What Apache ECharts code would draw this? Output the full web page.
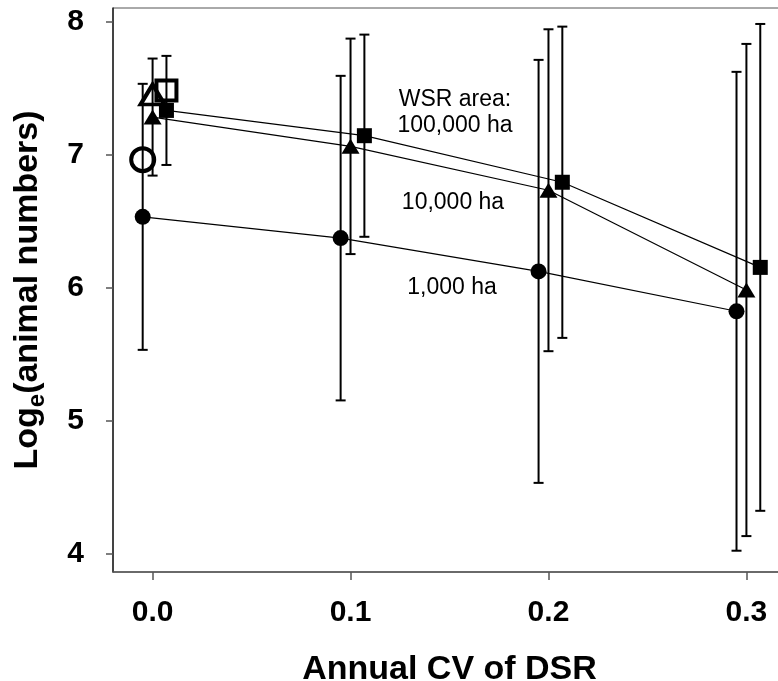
<!DOCTYPE html>
<html>
<head>
<meta charset="utf-8">
<script src="https://cdn.jsdelivr.net/npm/echarts@6/dist/echarts.min.js"></script>
<style>
html,body{margin:0;padding:0;background:#fff;}
#chart{width:778px;height:681px;}
</style>
</head>
<body>
<div id="chart"></div>
<script>
// ---- data ----
const xTicks = [0, 0.1, 0.2, 0.3];
const yTicks = [4, 5, 6, 7, 8];

// 1,000 ha (filled circles)
const x1000 = [-0.005, 0.095, 0.195, 0.295];
const y1000 = [6.53, 6.37, 6.12, 5.82];
const e1000 = [1.00, 1.22, 1.59, 1.80];

// 10,000 ha (filled triangles)
const x10000 = [0, 0.1, 0.2, 0.3];
const y10000 = [7.28, 7.06, 6.73, 5.98];
const e10000 = [0.44, 0.81, 1.21, 1.85];

// 100,000 ha (filled squares)
const x100000 = [0.007, 0.107, 0.207, 0.307];
const y100000 = [7.33, 7.14, 6.79, 6.15];
const e100000 = [0.41, 0.76, 1.17, 1.83];

// open symbols at CV = 0
const openCircle = [[-0.005, 6.96]];
const openTriangle = [[0, 7.45]];
const openSquare = [[0.007, 7.48]];

const annotations = ['WSR area:', '100,000 ha', '10,000 ha', '1,000 ha'];

// ---- build ----
const FONT = '"Liberation Sans", Arial, sans-serif';
function pts(xs, ys) { return xs.map((x, i) => [x, ys[i]]); }
function bars(xs, ys, es) { return xs.map((x, i) => [x, ys[i] - es[i], ys[i] + es[i]]); }

function errSeries(data) {
  return {
    type: 'custom',
    data: data,
    encode: { x: 0, y: [1, 2] },
    z: 1,
    clip: false,
    renderItem: function (params, api) {
      const x = api.value(0), lo = api.value(1), hi = api.value(2);
      const a = api.coord([x, hi]);
      const b = api.coord([x, lo]);
      const hw = 5;
      const st = { stroke: '#000', lineWidth: 2 };
      return {
        type: 'group',
        children: [
          { type: 'line', shape: { x1: a[0], y1: a[1], x2: b[0], y2: b[1] }, style: st },
          { type: 'line', shape: { x1: a[0] - hw, y1: a[1], x2: a[0] + hw, y2: a[1] }, style: st },
          { type: 'line', shape: { x1: b[0] - hw, y1: b[1], x2: b[0] + hw, y2: b[1] }, style: st }
        ]
      };
    }
  };
}

function lineSeries(data, symbol, size) {
  return {
    type: 'line',
    data: data,
    symbol: symbol,
    symbolSize: size,
    showAllSymbol: true,
    z: 3,
    lineStyle: { color: '#000', width: 1.2 },
    itemStyle: { color: '#000', borderWidth: 0, opacity: 1 },
    emphasis: { disabled: true },
    animation: false
  };
}

function openSeries(data, symbol, size) {
  return {
    type: 'scatter',
    data: data,
    symbol: symbol,
    symbolSize: size,
    z: 4,
    itemStyle: { color: 'rgba(0,0,0,0)', borderColor: '#000', borderWidth: 4, opacity: 1 },
    emphasis: { disabled: true }
  };
}

const chart = echarts.init(document.getElementById('chart'), null, { renderer: 'canvas' });
chart.setOption({
  animation: false,
  backgroundColor: '#fff',
  grid: { left: 113, top: 8, width: 673, height: 564, outerBoundsMode: 'none', containLabel: false, show: true, borderColor: '#555', borderWidth: 1, backgroundColor: 'transparent' },
  xAxis: {
    type: 'value', min: -0.02, max: 0.32,
    splitLine: { show: false },
    axisLine: { show: true, onZero: false, lineStyle: { color: '#555', width: 1.5 } },
    axisTick: { show: true, inside: false, length: 8, customValues: xTicks, lineStyle: { color: '#555', width: 1.5 } },
    axisLabel: { customValues: xTicks, margin: 26, formatter: v => v.toFixed(1), color: '#000', fontFamily: FONT, fontWeight: 'bold', fontSize: 30 },
    name: 'Annual CV of DSR', nameLocation: 'middle', nameGap: 81,
    nameTextStyle: { color: '#000', fontFamily: FONT, fontWeight: 'bold', fontSize: 34 }
  },
  yAxis: {
    type: 'value', min: 3.86, max: 8.1,
    splitLine: { show: false },
    axisLine: { show: true, onZero: false, lineStyle: { color: '#222', width: 1.5 } },
    axisTick: { show: true, inside: false, length: 7, customValues: yTicks, lineStyle: { color: '#555', width: 1.5 } },
    axisLabel: { customValues: yTicks, margin: 29, color: '#000', fontFamily: FONT, fontWeight: 'bold', fontSize: 30 },
    name: '{a|Log}{b|e}{a|(animal numbers)}', nameLocation: 'middle', nameGap: 64, nameRotate: 90,
    nameTextStyle: {
      color: '#000', fontFamily: FONT, fontWeight: 'bold', fontSize: 34,
      rich: {
        a: { fontFamily: FONT, fontWeight: 'bold', fontSize: 34, color: '#000' },
        b: { fontFamily: FONT, fontWeight: 'bold', fontSize: 24, color: '#000', padding: [18, 0, 0, 0] }
      }
    }
  },
  graphic: [
    { type: 'text', x: 455, y: 100, z: 10, style: { text: annotations[0], font: '23px ' + FONT, fill: '#000', textAlign: 'center', textVerticalAlign: 'middle' } },
    { type: 'text', x: 455, y: 126, z: 10, style: { text: annotations[1], font: '23px ' + FONT, fill: '#000', textAlign: 'center', textVerticalAlign: 'middle' } },
    { type: 'text', x: 453, y: 203, z: 10, style: { text: annotations[2], font: '23px ' + FONT, fill: '#000', textAlign: 'center', textVerticalAlign: 'middle' } },
    { type: 'text', x: 452, y: 288, z: 10, style: { text: annotations[3], font: '23px ' + FONT, fill: '#000', textAlign: 'center', textVerticalAlign: 'middle' } }
  ],
  series: [
    errSeries(bars(x1000, y1000, e1000)),
    errSeries(bars(x10000, y10000, e10000)),
    errSeries(bars(x100000, y100000, e100000)),
    lineSeries(pts(x1000, y1000), 'circle', 16),
    lineSeries(pts(x10000, y10000), 'triangle', [18, 15]),
    lineSeries(pts(x100000, y100000), 'rect', 15),
    openSeries(openCircle, 'circle', 23),
    openSeries(openTriangle, 'triangle', [24, 20]),
    openSeries(openSquare, 'rect', 20)
  ]
});
</script>
</body>
</html>
